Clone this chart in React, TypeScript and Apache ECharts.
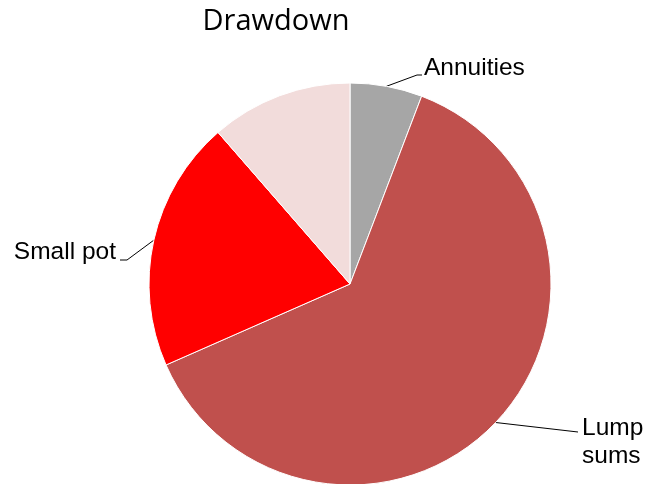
import React, { useEffect, useRef } from "react";
import * as echarts from "echarts";

const categories = ["Annuities", "Lump sums", "Small pot", "Other"];
const values = [5.8, 62.6, 20.2, 11.4];
const labelNames = ["Annuities", "Lump\nsums", "Small pot", ""];
const colors = ["#A6A6A6", "#C0504D", "#FF0000", "#F2DCDB"];
const titleText = "Drawdown";

export default function App() {
  const ref = useRef<HTMLDivElement>(null);
  useEffect(() => {
    if (!ref.current) return;
    const chart = echarts.init(ref.current, null, { renderer: "svg" });
    const labelPos: any = {
      0: { x: 424, y: 66, align: "left", knee: [-7, 9], end: [-2, 9] },
      1: { x: 582, y: 440, align: "left", knee: [-4, -8], end: [-4, -8] },
      2: { x: 116, y: 250, align: "right", knee: [11, 10], end: [4, 10] },
    };
    chart.setOption({
      animation: false,
      title: {
        text: titleText,
        left: 271,
        top: -1,
        textAlign: "center",
        textStyle: {
          fontFamily: "Open Sans",
          fontWeight: "normal",
          fontSize: 29,
          color: "#000",
        },
      },
      series: [
        {
          type: "pie",
          center: [350, 284],
          radius: [0, 201],
          startAngle: 90,
          clockwise: true,
          avoidLabelOverlap: false,
          itemStyle: { borderColor: "#fff", borderWidth: 1 },
          label: {
            show: true,
            position: "outside",
            fontFamily: "Liberation Sans",
            fontSize: 24.5,
            lineHeight: 28,
            color: "#000",
            formatter: (p: any) => labelNames[p.dataIndex],
          },
          labelLine: {
            show: true,
            length: 10,
            length2: 10,
            lineStyle: { color: "#000", width: 1 },
          },
          labelLayout: (params: any) => {
            const lp = labelPos[params.dataIndex];
            if (!lp || !params.labelLinePoints) return {};
            const p0 = params.labelLinePoints[0];
            const ex = lp.x + lp.end[0];
            const ey = lp.y + lp.end[1];
            const kx = lp.x + lp.knee[0];
            const ky = lp.y + lp.knee[1];
            return {
              x: lp.x,
              y: lp.y,
              align: lp.align,
              verticalAlign: "middle",
              labelLinePoints: [p0, [kx, ky], [ex, ey]],
            };
          },
          data: categories.map((name, i) => ({
            name,
            value: values[i],
            itemStyle: { color: colors[i] },
            label: { show: labelNames[i] !== "" },
            labelLine: { show: labelNames[i] !== "" },
          })),
        },
      ],
    });
    return () => chart.dispose();
  }, []);
  return (
    <div
      ref={ref}
      style={{ position: "fixed", left: 0, top: 0, width: 648, height: 484 }}
    />
  );
}
